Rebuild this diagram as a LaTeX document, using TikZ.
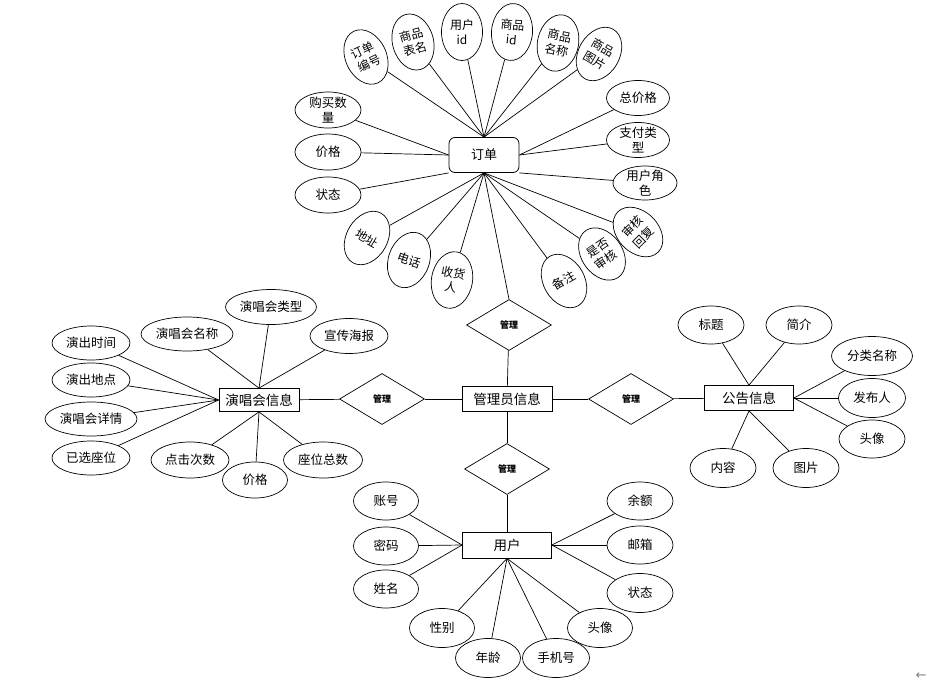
\documentclass[tikz,border=0pt]{standalone}
\usepackage{fontspec}
\setmainfont{Noto Sans CJK SC}
\newfontfamily\symfont{DejaVu Sans}
\usetikzlibrary{shapes.geometric}
\tikzset{
	attr/.style={draw, ellipse, line width=0.7pt, inner sep=-4pt, minimum width=65pt, minimum height=37pt, align=center, font=\fontsize{12.5}{15}\selectfont},
	tallattr/.style={attr, minimum width=41pt, minimum height=57pt, font=\fontsize{12}{15}\selectfont},
	entity/.style={draw, rectangle, line width=0.8pt, minimum width=89pt, minimum height=25pt, font=\fontsize{13.5}{16}\selectfont},
	relation/.style={draw, diamond, line width=0.7pt, inner sep=0pt, minimum width=85pt, minimum height=51pt, font=\bfseries\fontsize{9}{10}\selectfont},
	link/.style={line width=0.7pt}
}

\begin{document}
\begin{tikzpicture}[x=1pt, y=1pt]
		\useasboundingbox (0, 0) rectangle (930, -686);
		%%%%% START %%%%%
		% order
		\node[entity, rounded corners=6pt, minimum width=70pt, minimum height=35pt, font=\fontsize{13}{15}\selectfont] (order) at (484, -155) {订单};
		
		\node[tallattr, rotate=25] (ord_no) at (366, -57) {订单\\编号};
		\node[tallattr, rotate=15] (ord_tab) at (413, -42) {商品\\表名};
		\node[tallattr] (ord_uid) at (462, -32) {用户\\id};
		\node[tallattr, rotate=-5] (ord_gid) at (512, -32) {商品\\id};
		\node[tallattr, rotate=-12] (ord_gname) at (558, -43) {商品\\名称};
		\node[tallattr, rotate=-30] (ord_gpic) at (599, -54) {商品\\图片};
		
		\node[attr, minimum width=66pt, minimum height=36pt] (ord_num) at (328, -110) {购买数\\量};
		\node[attr, minimum width=66pt, minimum height=36pt] (ord_price) at (328, -152) {价格};
		\node[attr, minimum width=66pt, minimum height=36pt] (ord_state) at (328, -195) {状态};
		
		\node[tallattr, rotate=-30] (ord_addr) at (367, -238) {地址};
		\node[tallattr, rotate=-20] (ord_tel) at (409, -260) {电话};
		\node[tallattr, rotate=-10] (ord_recv) at (452, -280) {收货\\人};
		\node[tallattr, rotate=30] (ord_note) at (564, -281) {备注};
		\node[tallattr, rotate=35] (ord_chk) at (602, -254) {是否\\审核};
		\node[tallattr, rotate=45] (ord_reply) at (638, -232) {审核\\回复};
		
		\node[attr, minimum width=63pt, minimum height=35pt] (ord_total) at (638, -98) {总价格};
		\node[attr, minimum width=63pt, minimum height=35pt] (ord_pay) at (638, -140) {支付类\\型};
		\node[attr, minimum width=64pt, minimum height=34pt] (ord_role) at (645, -183) {用户角\\色};
		
		\draw[link] (order.north) -- (ord_no);
		\draw[link] (order.north) -- (ord_tab);
		\draw[link] (order.north) -- (ord_uid);
		\draw[link] (order.north) -- (ord_gid);
		\draw[link] (order.north) -- (ord_gname);
		\draw[link] (order.north) -- (ord_gpic);
		\draw[link] (order.west) -- (ord_num);
		\draw[link] (order.west) -- (ord_price);
		\draw[link] (order.south west) -- (ord_state);
		\draw[link] (order.south) -- (ord_addr);
		\draw[link] (order.south) -- (ord_tel);
		\draw[link] (order.south) -- (ord_recv);
		\draw[link] (order.south) -- (ord_note);
		\draw[link] (order.south) -- (ord_chk);
		\draw[link] (order.south) -- (ord_reply);
		\draw[link] (order.east) -- (ord_total);
		\draw[link] (order.east) -- (ord_pay);
		\draw[link] (order.south east) -- (ord_role);
		
		% admin and relations
		\node[entity, minimum width=90pt] (admin) at (507, -399) {管理员信息};
		\node[relation] (rel_order) at (509, -325) {管理};
		\node[relation] (rel_show) at (382, -399) {管理};
		\node[relation] (rel_note) at (631, -399) {管理};
		\node[relation] (rel_user) at (507, -469) {管理};
		
		% concert
		\node[entity, minimum width=80pt, minimum height=23pt] (show) at (259, -400) {演唱会信息};
		
		\node[attr, minimum width=91pt, minimum height=35pt] (show_type) at (271, -307) {演唱会类型};
		\node[attr, minimum width=92pt, minimum height=34pt] (show_name) at (187, -334) {演唱会名称};
		\node[attr, minimum width=78pt, minimum height=35pt] (show_post) at (349, -336) {宣传海报};
		\node[attr, minimum width=78pt, minimum height=34pt] (show_time) at (91, -343) {演出时间};
		\node[attr, minimum width=78pt, minimum height=34pt] (show_place) at (91, -380) {演出地点};
		\node[attr, minimum width=92pt, minimum height=34pt] (show_info) at (91, -419) {演唱会详情};
		\node[attr, minimum width=78pt, minimum height=34pt] (show_seat) at (91, -458) {已选座位};
		\node[attr, minimum width=78pt, minimum height=36pt] (show_click) at (190, -460) {点击次数};
		\node[attr, minimum width=65pt, minimum height=36pt] (show_price) at (255, -480) {价格};
		\node[attr, minimum width=79pt, minimum height=36pt] (show_total) at (323, -460) {座位总数};
		
		\draw[link] (show.north) -- (show_type);
		\draw[link] (show.north) -- (show_name);
		\draw[link] (show.north) -- (show_post);
		\draw[link] (show.west) -- (show_time);
		\draw[link] (show.west) -- (show_place);
		\draw[link] (show.west) -- (show_info);
		\draw[link] (show.west) -- (show_seat);
		\draw[link] (show.south) -- (show_click);
		\draw[link] (show.south) -- (show_price);
		\draw[link] (show.south) -- (show_total);
		
		% notice
		\node[entity] (note) at (749, -398) {公告信息};
		
		\node[attr, minimum width=66pt, minimum height=38pt] (note_title) at (711, -325) {标题};
		\node[attr, minimum width=66pt, minimum height=38pt] (note_brief) at (799, -325) {简介};
		\node[attr, minimum width=81pt, minimum height=39pt] (note_cat) at (872, -356) {分类名称};
		\node[attr, minimum width=67pt, minimum height=39pt] (note_pub) at (872, -398) {发布人};
		\node[attr, minimum width=66pt, minimum height=38pt] (note_head) at (872, -439) {头像};
		\node[attr, minimum width=66pt, minimum height=39pt] (note_body) at (723, -468) {内容};
		\node[attr, minimum width=66pt, minimum height=39pt] (note_pic) at (806, -468) {图片};
		
		\draw[link] (note.north) -- (note_title);
		\draw[link] (note.north) -- (note_brief);
		\draw[link] (note.east) -- (note_cat);
		\draw[link] (note.east) -- (note_pub);
		\draw[link] (note.east) -- (note_head);
		\draw[link] (note.south) -- (note_body);
		\draw[link] (note.south) -- (note_pic);
		
		% user
		\node[entity, minimum height=26pt] (user) at (507, -545) {用户};
		
		\node[attr, minimum height=38pt] (user_acc) at (386, -501) {账号};
		\node[attr, minimum height=38pt] (user_pwd) at (386, -546) {密码};
		\node[attr, minimum height=38pt] (user_name) at (386, -589) {姓名};
		\node[attr, minimum height=39pt] (user_sex) at (442, -628) {性别};
		\node[attr, minimum height=39pt] (user_age) at (488, -658) {年龄};
		\node[attr, minimum width=67pt, minimum height=39pt] (user_tel) at (556, -658) {手机号};
		\node[attr, minimum height=39pt] (user_head) at (600, -628) {头像};
		\node[attr, minimum width=66pt, minimum height=38pt] (user_money) at (640, -501) {余额};
		\node[attr, minimum width=66pt, minimum height=38pt] (user_mail) at (640, -545) {邮箱};
		\node[attr, minimum width=66pt, minimum height=39pt] (user_state) at (640, -593) {状态};
		
		\draw[link] (user.west) -- (user_acc);
		\draw[link] (user.west) -- (user_pwd);
		\draw[link] (user.west) -- (user_name);
		\draw[link] (user.south) -- (user_sex);
		\draw[link] (user.south) -- (user_age);
		\draw[link] (user.south) -- (user_tel);
		\draw[link] (user.south) -- (user_head);
		\draw[link] (user.east) -- (user_money);
		\draw[link] (user.east) -- (user_mail);
		\draw[link] (user.east) -- (user_state);
		
		% relations between entities
		\draw[link] (order.south) -- (rel_order.north);
		\draw[link] (rel_order) -- (admin);
		\draw[link] (show) -- (rel_show);
		\draw[link] (rel_show) -- (admin);
		\draw[link] (admin) -- (rel_note);
		\draw[link] (rel_note) -- (note);
		\draw[link] (admin) -- (rel_user);
		\draw[link] (rel_user) -- (user);
		
		\node[text=gray, font=\symfont\fontsize{13}{14}\selectfont] (back) at (921, -676) {←};
		%%%%% END %%%%%
\end{tikzpicture}
\end{document}
